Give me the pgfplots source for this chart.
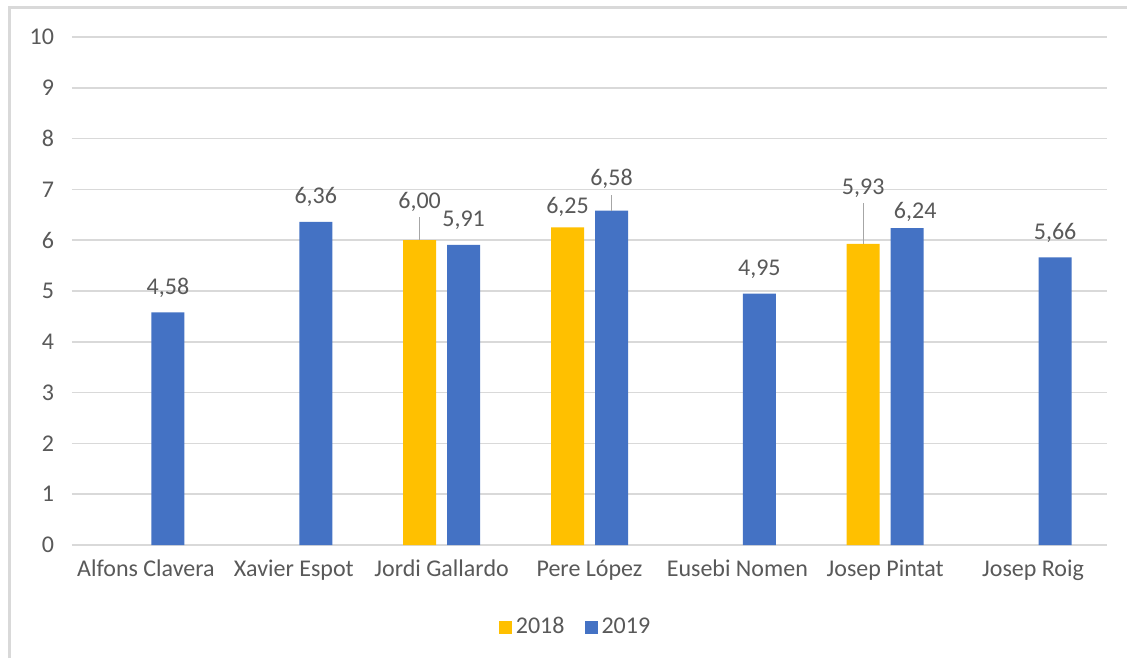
\documentclass[border=0pt]{standalone}
\usepackage{fontspec}
\setmainfont{Carlito}
\usepackage{pgfplots}
\pgfplotsset{compat=1.18}

\definecolor{gold}{HTML}{FFC000}
\definecolor{steel}{HTML}{4472C4}
\definecolor{txt}{HTML}{595959}
\definecolor{gridc}{HTML}{D9D9D9}
\definecolor{leader}{HTML}{A6A6A6}

% one value per row: category index, value, label shift (pt)
\pgfplotstableread{
x  y     dx   dy
2  6.00  -11  7
3  6.25  -11 -2
5  5.93  -11  15.5
}\tabA
\pgfplotstableread{
x  y     dx  dy
0  4.58  11  0
1  6.36  11  0
2  5.91  11  0
3  6.58  11  3.5
4  4.95  11  0
5  6.24  15 -4
6  5.66  11  0
}\tabB

\begin{document}
\begin{tikzpicture}
\useasboundingbox (0,0) rectangle (563.5pt,329pt);
\fill[white] (0,0) rectangle (563.5pt,329pt);
\draw[gridc, line width=1.5pt] (4.75pt,0) -- (4.75pt,325pt) -- (563.5pt,325pt);

\begin{axis}[
    at={(36pt,56.5pt)}, anchor=south west,
    width=517.5pt, height=254pt, scale only axis,
    xmin=-0.5, xmax=6.5, ymin=0, ymax=10,
    xtick={0,...,6},
    xticklabels={Alfons Clavera, Xavier Espot, Jordi Gallardo, Pere López, Eusebi Nomen, Josep Pintat, Josep Roig},
    ytick={0,...,10},
    xmajorgrids=false, ymajorgrids=true,
    grid style={draw=gridc, line width=0.75pt},
    axis line style={draw=none},
    major tick length=0pt,
    tick label style={font=\fontsize{12}{14}\selectfont, text=txt},
    yticklabel style={xshift=-5.5pt},
    xticklabel style={yshift=-4pt},
    /pgf/number format/assume math mode=true,
    legend columns=2,
    legend style={at={(0.5,0)}, anchor=center, xshift=-6.5pt, yshift=-41pt,
        draw=none, fill=none, font=\fontsize{12}{14}\selectfont, text=txt,
        /tikz/every even column/.append style={column sep=8pt}},
    legend image code/.code={\fill[#1] (0pt,-3.25pt) rectangle (6.5pt,3.25pt);},
    nodes near coords={\pgfmathprintnumber[fixed,fixed zerofill,precision=2,use comma,assume math mode=true]{\pgfplotspointmeta}},
    every node near coord/.append style={font=\fontsize{12}{14}\selectfont, text=txt, anchor=base,
        xshift=\dx*1pt, yshift={(9+\dy)*1pt}},
    visualization depends on={\thisrow{dx} \as \dx},
    visualization depends on={\thisrow{dy} \as \dy},
]
\addplot[ybar, bar width=16.5pt, bar shift=-11pt, fill=gold, draw=none] table[x=x, y=y] {\tabA};
\addlegendentry{2018}
\addplot[ybar, bar width=16.5pt, bar shift=11pt, fill=steel, draw=none] table[x=x, y=y] {\tabB};
\addlegendentry{2019}

% leader lines for the labels that were moved up
\draw[leader, line width=0.5pt] (axis cs:1.851,6.00) -- (axis cs:1.851,6.45);
\draw[leader, line width=0.5pt] (axis cs:3.149,6.58) -- (axis cs:3.149,6.895);
\draw[leader, line width=0.5pt] (axis cs:4.851,5.93) -- (axis cs:4.851,6.737);
\end{axis}
\end{tikzpicture}
\end{document}
